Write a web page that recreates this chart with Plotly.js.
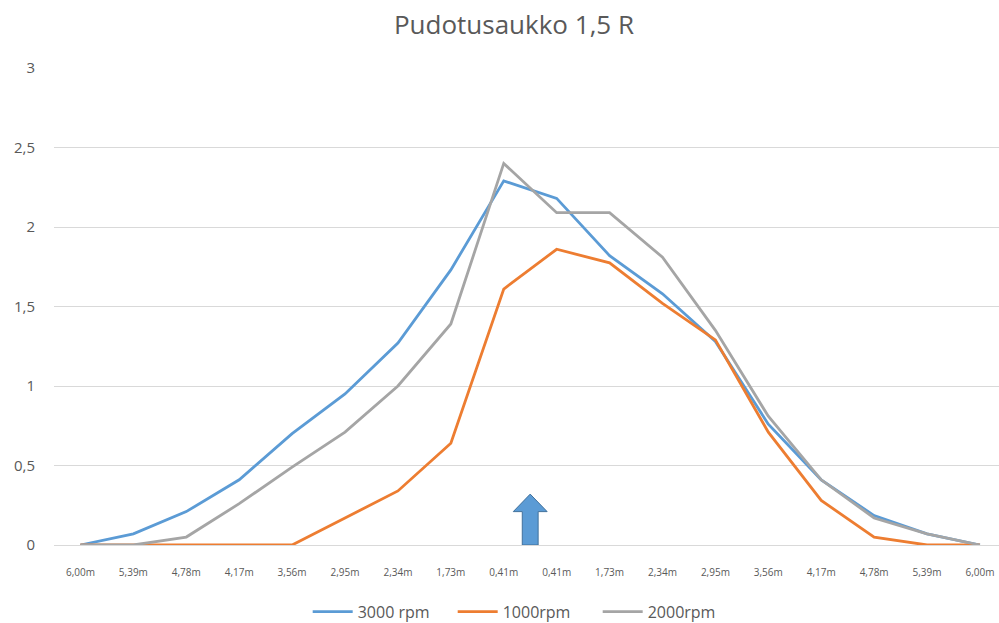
<!DOCTYPE html>
<html>
<head>
<meta charset="utf-8">
<script src="https://cdn.plot.ly/plotly-3.0.1.min.js"></script>
<style>html,body{margin:0;padding:0;background:#fff;}#chart{width:999px;height:623px;}</style>
</head>
<body>
<div id="chart"></div>
<script>
const tickLabels = ["6,00m","5,39m","4,78m","4,17m","3,56m","2,95m","2,34m","1,73m","0,41m","0,41m","1,73m","2,34m","2,95m","3,56m","4,17m","4,78m","5,39m","6,00m"];
const rpm3000 = [0, 0.07, 0.21, 0.41, 0.70, 0.95, 1.27, 1.73, 2.29, 2.18, 1.82, 1.58, 1.28, 0.76, 0.41, 0.185, 0.07, 0];
const rpm1000 = [0, 0, 0, 0, 0, 0.17, 0.34, 0.64, 1.61, 1.86, 1.775, 1.52, 1.29, 0.71, 0.28, 0.05, 0, 0];
const rpm2000 = [0, 0, 0.05, 0.26, 0.49, 0.71, 1.0, 1.39, 2.40, 2.09, 2.09, 1.81, 1.35, 0.81, 0.41, 0.17, 0.07, 0];
const seriesNames = ["3000 rpm", "1000rpm", "2000rpm"];
const seriesColors = ["#5B9BD5", "#ED7D31", "#A5A5A5"];

const xIdx = tickLabels.map((_, i) => i);
const allSeries = [rpm3000, rpm1000, rpm2000];

const traces = allSeries.map((ys, k) => ({
  x: xIdx, y: ys, type: 'scatter', mode: 'lines', name: seriesNames[k],
  line: {color: seriesColors[k], width: 2.8}, hoverinfo: 'skip'
}));

// marker arrow between the two middle categories
const ac = 8.5, shaftHW = 0.15, headHW = 0.32, headBase = 0.21, headTop = 0.32;
const arrowPath = `M ${ac-shaftHW},0 L ${ac-shaftHW},${headBase} L ${ac-headHW},${headBase} L ${ac},${headTop} L ${ac+headHW},${headBase} L ${ac+shaftHW},${headBase} L ${ac+shaftHW},0 Z`;

const layout = {
  width: 999, height: 623,
  margin: {l: 53.5, r: 0, t: 68, b: 77.7, autoexpand: false},
  paper_bgcolor: '#ffffff', plot_bgcolor: '#ffffff',
  separators: ', ',
  font: {family: 'Open Sans, sans-serif', color: '#595959'},
  title: {text: 'Pudotusaukko 1,5 R', font: {size: 26, color: '#595959', family: 'Open Sans, sans-serif'},
          x: 0.5145, xref: 'container', xanchor: 'center', y: 0.96, yref: 'container', yanchor: 'middle'},
  xaxis: {
    type: 'linear', range: [-0.5, 17.36], tickmode: 'array', tickvals: xIdx, ticktext: tickLabels,
    showgrid: false, zeroline: false, showline: false, ticks: '',
    tickfont: {size: 10, color: '#595959'}, ticklabelstandoff: 20, fixedrange: true, automargin: false
  },
  yaxis: {
    range: [0, 3], dtick: 0.5, tick0: 0, showgrid: true, gridcolor: '#D9D9D9', gridwidth: 1,
    zeroline: true, zerolinecolor: '#D9D9D9', zerolinewidth: 1, showline: false, ticks: '',
    tickfont: {size: 15, color: '#595959'}, ticklabelstandoff: 18, fixedrange: true, automargin: false
  },
  shapes: [{type: 'path', path: arrowPath, xref: 'x', yref: 'y',
            fillcolor: '#5B9BD5', line: {color: '#41719C', width: 1}, layer: 'above'}],
  legend: {orientation: 'h', x: 0.308, xref: 'container', xanchor: 'left', y: 0.018, yref: 'container', yanchor: 'middle',
           font: {size: 16, color: '#595959'}, itemwidth: 40, entrywidth: 90, traceorder: 'normal'},
  showlegend: true
};

Plotly.newPlot('chart', traces, layout, {displayModeBar: false, staticPlot: true});
</script>
</body>
</html>
